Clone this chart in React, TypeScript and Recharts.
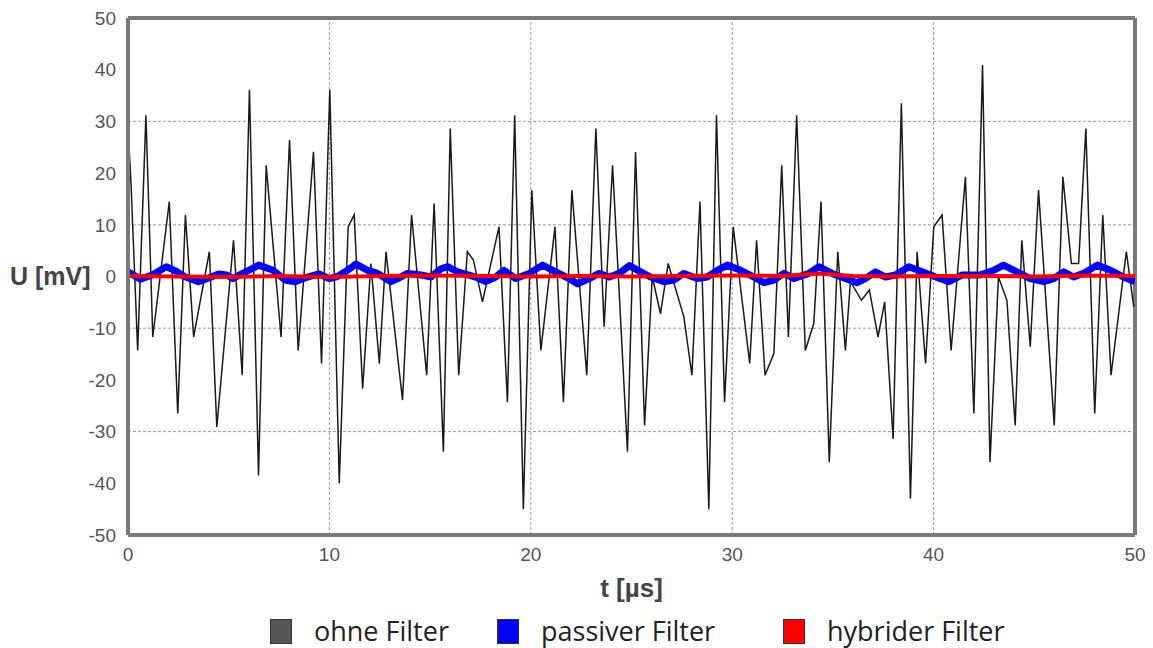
import { LineChart, Line, XAxis, YAxis, ReferenceLine, Label } from "recharts"

// ohne Filter (raw signal)
const OHNE_T = [
  0, 0.15, 0.48, 0.89, 1.23, 2.05, 2.47, 2.85, 3.26, 4.04, 4.41, 5.24, 5.67, 6.03, 6.48, 6.86, 7.6, 8.02,
  8.45, 9.21, 9.61, 10.02, 10.49, 10.93, 11.23, 11.65, 12.06, 12.48, 12.81, 13.63, 14.08, 14.83, 15.2, 15.66,
  16.0, 16.42, 16.85, 17.15, 17.6, 18.42, 18.84, 19.2, 19.63, 20.05, 20.5, 21.2, 21.62, 22.04, 22.78, 23.23,
  23.64, 24.06, 24.8, 25.2, 25.65, 26.03, 26.44, 26.82, 27.6, 28.0, 28.4, 28.84, 29.22, 29.62, 30.05, 30.87,
  31.21, 31.63, 32.07, 32.46, 32.79, 33.2, 33.63, 34.05, 34.41, 34.82, 35.24, 35.62, 35.87, 36.42, 36.81,
  37.24, 37.57, 37.99, 38.4, 38.85, 39.18, 39.6, 40.01, 40.42, 40.87, 41.58, 42.0, 42.43, 42.8, 43.22, 43.64,
  44.05, 44.38, 44.8, 45.21, 45.99, 46.42, 46.84, 47.2, 47.56, 48.0, 48.4, 48.81, 49.57, 49.94,
]
const OHNE_V = [
  29, 18, -14.3, 31.2, -11.7, 14.5, -26.5, 11.9, -11.7, 4.8, -29.1, 7.0, -19.1, 36.1, -38.5, 21.5, -11.7, 26.4,
  -14.3, 24.1, -16.8, 36.1, -40, 9.6, 11.9, -21.7, 2.5, -16.8, 4.8, -23.9, 11.9, -19.1, 14.1, -33.9,
  28.6, -19.1, 4.8, 3.2, -4.9, 9.6, -24.3, 31.2, -45, 16.7, -14.3, 9.6, -24.3, 16.7, -19.1, 28.6,
  -9.7, 21.5, -33.9, 24.1, -28.8, 0, -7.2, 2.5, -7.8, -19.1, 14.5, -45, 31.2, -24.3, 9.6, -16.8,
  7.0, -19.1, -14.9, 21.5, -11.7, 31.2, -14.3, -9.1, 14.5, -35.9, 4.8, -14.3, -1.0, -4.6, -2.6,
  -11.7, -4.9, -31.4, 33.5, -43, 4.8, -16.8, 9.6, 11.9, -14.3, 19.3, -26.5, 40.9, -35.9, -0.1, -4.6,
  -28.8, 7.0, -13.6, 16.7, -28.8, 19.3, 2.5, 2.5, 28.6, -26.5, 11.9, -19.1, 4.8, -5.9,
]

// passiver Filter
const PASSIV_T = [
  0, 0.6, 1.2, 1.9, 2.4, 2.8, 3.5, 4.0, 4.5, 4.9, 5.2, 5.5, 6.5, 7.2, 7.8, 8.3, 8.91, 9.49, 9.99, 10.4, 10.9,
  11.32, 11.9, 12.39, 13.06, 13.39, 13.88, 14.55, 15.04, 15.54, 15.87, 16.37, 17.26, 17.76, 18.26, 18.67,
  19.25, 19.92, 20.58, 21.24, 21.9, 22.32, 22.9, 23.39, 23.89, 24.39, 24.9, 25.45, 25.94, 26.61, 27.1, 27.6,
  28.26, 28.76, 29.26, 29.76, 30.42, 31.08, 31.58, 32.07, 32.57, 33.07, 33.8, 34.3, 34.96, 35.62, 36.2,
  36.61, 37.11, 37.61, 38.11, 38.77, 39.43, 40.1, 40.76, 41.42, 42.3, 42.98, 43.47, 44.13, 44.8, 45.46,
  45.96, 46.46, 46.95, 47.45, 48.12, 48.78, 49.44, 50,
]
const PASSIV_V = [
  0.9, -0.5, 0.3, 1.9, 1.0, 0, -1.0, -0.3, 0.5, 0.3, -0.4, 0.2, 2.2, 1.2, -0.7, -1.0, -0.1, 0.5, -0.4, 0, 1.2,
  2.4, 1.2, 0.6, -1.0, -0.4, 0.6, 0.3, -0.1, 1.5, 1.9, 0.9, -0.1, -1.0, -0.1, 1.2,
  -0.4, 0.6, 2.2, 0.9, -0.4, -1.4, -0.4, 0.6, -0.1, 0.6, 2.1, 0.9, -0.1, -1.0, -0.7, 0.6,
  -0.4, -0.1, 1.2, 2.2, 1.2, -0.1, -1.2, -0.7, 0.6, -0.4, 0.6, 1.9, 0.6, -0.4, -1.2,
  -0.4, 0.9, -0.1, 0.3, 1.9, 0.9, -0.1, -1.0, 0.3, 0.3, 1.2, 2.2, 0.9, -0.4, -1.0,
  -0.4, 0.9, -0.1, 0.6, 2.2, 1.2, -0.1, -1.0,
]

// hybrider Filter
const HYBRID_T = [0, 2.5, 5, 7.5, 10, 12.5, 15, 17.5, 20, 22.5, 25, 27.5, 30, 32.5, 34.3, 36, 38, 40, 42.5, 45, 47.5, 50]
const HYBRID_V = [0.1, 0, -0.1, 0.1, -0.1, 0.1, 0.2, 0.1, 0, 0.1, 0, 0.1, 0.2, 0.1, 0.6, 0.1, 0, 0.1, 0.1, 0, 0.2, 0.1]

const X_TICKS = [0, 10, 20, 30, 40, 50]
const Y_TICKS = [-50, -40, -30, -20, -10, 0, 10, 20, 30, 40, 50]
const GRID_X = [10, 20, 30, 40]
const GRID_Y = [30, 10, -10, -30]

const LEGEND = [
  { label: "ohne Filter", color: "#555555", left: 270 },
  { label: "passiver Filter", color: "#0000ff", left: 497 },
  { label: "hybrider Filter", color: "#ff0000", left: 783 },
]

const zip = (ts: number[], vs: number[]) => ts.map((t, i) => ({ t, v: vs[i] }))

const tickStyle = {
  fill: "#555",
  fontSize: 19,
  fontFamily: "'Liberation Sans', Arial, sans-serif",
}
const FRAME = "#7a7a7a"

export default function App() {
  const ohne = zip(OHNE_T, OHNE_V)
  const passiv = zip(PASSIV_T, PASSIV_V)
  const hybrid = zip(HYBRID_T, HYBRID_V)

  return (
    <div style={{ position: "absolute", left: 0, top: 0, width: 1153, height: 648, background: "#fff" }}>
      <LineChart width={1153} height={648} margin={{ top: 18, right: 18, left: 0, bottom: 0 }}>
        <XAxis
          type="number" dataKey="t" domain={[0, 50]} ticks={X_TICKS} height={113}
          tick={tickStyle} tickLine={false} tickSize={6} tickMargin={7}
          axisLine={{ stroke: FRAME, strokeWidth: 4 }} allowDataOverflow
        >
          <Label value="t [µs]" position="insideTop" offset={44} fill="#444" fontSize={26}
            fontWeight="bold" fontFamily="'Liberation Sans', Arial, sans-serif" />
        </XAxis>
        <YAxis
          type="number" domain={[-50, 50]} ticks={Y_TICKS} width={128}
          tick={tickStyle} tickLine={false} tickSize={6} tickMargin={6}
          axisLine={{ stroke: FRAME, strokeWidth: 4 }} allowDataOverflow
        >
          <Label value="U [mV]" position="insideLeft" offset={10} angle={0} fill="#444" fontSize={25}
            fontWeight="bold" fontFamily="'Liberation Sans', Arial, sans-serif" />
        </YAxis>

        {GRID_X.map((x) => (
          <ReferenceLine key={"gx" + x} x={x} stroke="#999" strokeDasharray="3 2" strokeWidth={1} />
        ))}
        {GRID_Y.map((y) => (
          <ReferenceLine key={"gy" + y} y={y} stroke="#999" strokeDasharray="3 2" strokeWidth={1} />
        ))}
        <ReferenceLine y={50} stroke={FRAME} strokeWidth={4} />
        <ReferenceLine x={50} stroke={FRAME} strokeWidth={4} />

        <Line data={ohne} dataKey="v" type="linear" dot={false} stroke="#1a1a1a" strokeWidth={1.5}
          isAnimationActive={false} />
        <Line data={passiv} dataKey="v" type="linear" dot={false} stroke="#0000ff" strokeWidth={7}
          strokeLinejoin="round" isAnimationActive={false} />
        <Line data={hybrid} dataKey="v" type="linear" dot={false} stroke="#ff0000" strokeWidth={4}
          isAnimationActive={false} />
      </LineChart>

      {LEGEND.map((item) => (
        <div key={item.label} style={{
          position: "absolute", left: item.left, top: 618, height: 26, lineHeight: "26px",
          display: "flex", alignItems: "center",
          fontFamily: "'Open Sans', sans-serif", fontSize: 27, color: "#222", whiteSpace: "nowrap",
        }}>
          <span style={{
            display: "inline-block", width: 20, height: 23, background: item.color,
            border: "1px solid #333", marginRight: 22,
          }} />
          {item.label}
        </div>
      ))}
    </div>
  )
}
